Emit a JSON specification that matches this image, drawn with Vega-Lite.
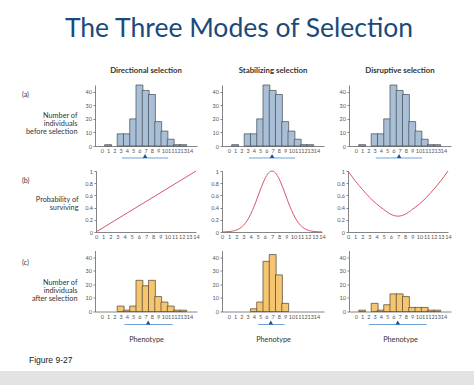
{
 "$schema": "https://vega.github.io/schema/vega-lite/v6.json",
 "padding": {"top": 16, "left": 0, "right": 0, "bottom": 0},
 "background": "white",
 "title": {"text": "The Three Modes of Selection", "font": "Lato", "fontSize": 26.5, "fontWeight": "normal", "color": "#1b4a7a", "anchor": "middle", "offset": -3, "dx": 2, "baseline": "bottom"},
 "datasets": {
  "before": [
   {"phenotype": 1, "count": 1}, {"phenotype": 3, "count": 9}, {"phenotype": 4, "count": 9}, {"phenotype": 5, "count": 20},
   {"phenotype": 6, "count": 45}, {"phenotype": 7, "count": 41}, {"phenotype": 8, "count": 38}, {"phenotype": 9, "count": 18},
   {"phenotype": 10, "count": 11}, {"phenotype": 11, "count": 5}, {"phenotype": 12, "count": 1}, {"phenotype": 13, "count": 1}
  ],
  "after": [
   {"sel": "Directional", "phenotype": 3, "count": 4}, {"sel": "Directional", "phenotype": 4, "count": 1}, {"sel": "Directional", "phenotype": 5, "count": 4},
   {"sel": "Directional", "phenotype": 6, "count": 23}, {"sel": "Directional", "phenotype": 7, "count": 19}, {"sel": "Directional", "phenotype": 8, "count": 23},
   {"sel": "Directional", "phenotype": 9, "count": 11}, {"sel": "Directional", "phenotype": 10, "count": 7}, {"sel": "Directional", "phenotype": 11, "count": 4},
   {"sel": "Directional", "phenotype": 12, "count": 1}, {"sel": "Directional", "phenotype": 13, "count": 1},
   {"sel": "Stabilizing", "phenotype": 4, "count": 2}, {"sel": "Stabilizing", "phenotype": 5, "count": 7}, {"sel": "Stabilizing", "phenotype": 6, "count": 37},
   {"sel": "Stabilizing", "phenotype": 7, "count": 42}, {"sel": "Stabilizing", "phenotype": 8, "count": 27}, {"sel": "Stabilizing", "phenotype": 9, "count": 6},
   {"sel": "Disruptive", "phenotype": 1, "count": 1}, {"sel": "Disruptive", "phenotype": 3, "count": 6}, {"sel": "Disruptive", "phenotype": 4, "count": 1},
   {"sel": "Disruptive", "phenotype": 5, "count": 5}, {"sel": "Disruptive", "phenotype": 6, "count": 13}, {"sel": "Disruptive", "phenotype": 7, "count": 13},
   {"sel": "Disruptive", "phenotype": 8, "count": 11}, {"sel": "Disruptive", "phenotype": 9, "count": 3}, {"sel": "Disruptive", "phenotype": 10, "count": 3},
   {"sel": "Disruptive", "phenotype": 11, "count": 3}, {"sel": "Disruptive", "phenotype": 12, "count": 1}, {"sel": "Disruptive", "phenotype": 13, "count": 1}
  ],
  "survival": [
   {"sel": "Directional", "phenotype": 0, "p": 0}, {"sel": "Directional", "phenotype": 14, "p": 1},
   {"sel": "Stabilizing", "phenotype": 0, "p": 0.001}, {"sel": "Stabilizing", "phenotype": 0.5, "p": 0.003}, {"sel": "Stabilizing", "phenotype": 1, "p": 0.007},
   {"sel": "Stabilizing", "phenotype": 1.5, "p": 0.015}, {"sel": "Stabilizing", "phenotype": 2, "p": 0.031}, {"sel": "Stabilizing", "phenotype": 2.5, "p": 0.06},
   {"sel": "Stabilizing", "phenotype": 3, "p": 0.109}, {"sel": "Stabilizing", "phenotype": 3.5, "p": 0.183}, {"sel": "Stabilizing", "phenotype": 4, "p": 0.288},
   {"sel": "Stabilizing", "phenotype": 4.5, "p": 0.421}, {"sel": "Stabilizing", "phenotype": 5, "p": 0.575}, {"sel": "Stabilizing", "phenotype": 5.5, "p": 0.732},
   {"sel": "Stabilizing", "phenotype": 6, "p": 0.871}, {"sel": "Stabilizing", "phenotype": 6.5, "p": 0.966}, {"sel": "Stabilizing", "phenotype": 7, "p": 1},
   {"sel": "Stabilizing", "phenotype": 7.5, "p": 0.966}, {"sel": "Stabilizing", "phenotype": 8, "p": 0.871}, {"sel": "Stabilizing", "phenotype": 8.5, "p": 0.732},
   {"sel": "Stabilizing", "phenotype": 9, "p": 0.575}, {"sel": "Stabilizing", "phenotype": 9.5, "p": 0.421}, {"sel": "Stabilizing", "phenotype": 10, "p": 0.288},
   {"sel": "Stabilizing", "phenotype": 10.5, "p": 0.183}, {"sel": "Stabilizing", "phenotype": 11, "p": 0.109}, {"sel": "Stabilizing", "phenotype": 11.5, "p": 0.06},
   {"sel": "Stabilizing", "phenotype": 12, "p": 0.031}, {"sel": "Stabilizing", "phenotype": 12.5, "p": 0.015}, {"sel": "Stabilizing", "phenotype": 13, "p": 0.007},
   {"sel": "Stabilizing", "phenotype": 13.5, "p": 0.003}, {"sel": "Stabilizing", "phenotype": 14, "p": 0.001},
   {"sel": "Disruptive", "phenotype": 0, "p": 1}, {"sel": "Disruptive", "phenotype": 1, "p": 0.84}, {"sel": "Disruptive", "phenotype": 2, "p": 0.7},
   {"sel": "Disruptive", "phenotype": 3, "p": 0.57}, {"sel": "Disruptive", "phenotype": 4, "p": 0.46}, {"sel": "Disruptive", "phenotype": 5, "p": 0.37},
   {"sel": "Disruptive", "phenotype": 6, "p": 0.29}, {"sel": "Disruptive", "phenotype": 7, "p": 0.26}, {"sel": "Disruptive", "phenotype": 8, "p": 0.29},
   {"sel": "Disruptive", "phenotype": 9, "p": 0.37}, {"sel": "Disruptive", "phenotype": 10, "p": 0.46}, {"sel": "Disruptive", "phenotype": 11, "p": 0.57},
   {"sel": "Disruptive", "phenotype": 12, "p": 0.7}, {"sel": "Disruptive", "phenotype": 13, "p": 0.84}, {"sel": "Disruptive", "phenotype": 14, "p": 1}
  ],
  "ranges": [
   {"sel": "Directional", "stage": "before", "lo": 3.2, "hi": 10.6, "mean": 6.9},
   {"sel": "Stabilizing", "stage": "before", "lo": 3.2, "hi": 10.6, "mean": 6.9},
   {"sel": "Disruptive", "stage": "before", "lo": 3.2, "hi": 10.6, "mean": 6.9},
   {"sel": "Directional", "stage": "after", "lo": 3.6, "hi": 11.3, "mean": 7.4},
   {"sel": "Stabilizing", "stage": "after", "lo": 4.7, "hi": 8.9, "mean": 6.7},
   {"sel": "Disruptive", "stage": "after", "lo": 2.1, "hi": 11.3, "mean": 6.7}
  ],
  "blank": [{"t": ""}]
 },
 "vconcat": [
  {
   "spacing": 10,
   "vconcat": [
    {
     "bounds": "flush",
     "spacing": 25,
     "hconcat": [
      {
       "width": 70, "height": 61,
       "data": {"name": "blank"}, "mark": {"type": "text"}, "encoding": {"text": {"field": "t"}},
       "title": {"text": "(a)", "anchor": "start", "frame": "group", "dx": 22, "dy": 9, "offset": -8, "baseline": "middle", "fontSize": 7, "fontWeight": "normal", "color": "#333"}
      },
      {
       "width": 102, "height": 61,
       "title": {"text": "Directional selection"},
       "layer": [
        {"data": {"name": "before"},
         "mark": {"type": "bar", "width": 6.9, "fill": "#a8bfd5", "stroke": "#434b54", "strokeWidth": 0.7},
         "encoding": {
          "x": {"field": "phenotype", "type": "quantitative", "scale": {"domain": [-0.3, 14.4], "nice": false, "zero": false}, "axis": {"values": [0,1,2,3,4,5,6,7,8,9,10,11,12,13,14], "title": null}},
          "y": {"field": "count", "type": "quantitative", "scale": {"domain": [0, 45], "nice": false}, "axis": {"values": [0,10,20,30,40], "title": ["Number of", "individuals", "before selection"], "titleAngle": 0, "titleAlign": "right", "titleBaseline": "middle", "titleX": -18, "titleY": 30}}
         }},
        {"data": {"name": "ranges"}, "transform": [{"filter": "datum.stage === 'before' && datum.sel === 'Directional'"}],
         "mark": {"type": "rule", "color": "#6ea3d8", "strokeWidth": 1},
         "encoding": {"x": {"field": "lo", "type": "quantitative", "axis": {"values": [0,1,2,3,4,5,6,7,8,9,10,11,12,13,14], "title": null}}, "x2": {"field": "hi"}, "y": {"datum": -8.85, "axis": {"values": [0,10,20,30,40], "title": ["Number of", "individuals", "before selection"], "titleAngle": 0, "titleAlign": "right", "titleBaseline": "middle", "titleX": -18, "titleY": 30}}}},
        {"data": {"name": "ranges"}, "transform": [{"filter": "datum.stage === 'before' && datum.sel === 'Directional'"}],
         "mark": {"type": "point", "shape": "triangle-up", "filled": true, "color": "#1f4f8f", "size": 20, "opacity": 1},
         "encoding": {"x": {"field": "mean", "type": "quantitative", "axis": {"values": [0,1,2,3,4,5,6,7,8,9,10,11,12,13,14], "title": null}}, "y": {"datum": -7.4, "axis": {"values": [0,10,20,30,40], "title": ["Number of", "individuals", "before selection"], "titleAngle": 0, "titleAlign": "right", "titleBaseline": "middle", "titleX": -18, "titleY": 30}}}}
       ]
      },
      {
       "width": 102, "height": 61,
       "title": {"text": "Stabilizing selection"},
       "layer": [
        {"data": {"name": "before"},
         "mark": {"type": "bar", "width": 6.9, "fill": "#a8bfd5", "stroke": "#434b54", "strokeWidth": 0.7},
         "encoding": {
          "x": {"field": "phenotype", "type": "quantitative", "scale": {"domain": [-0.3, 14.4], "nice": false, "zero": false}, "axis": {"values": [0,1,2,3,4,5,6,7,8,9,10,11,12,13,14], "title": null}},
          "y": {"field": "count", "type": "quantitative", "scale": {"domain": [0, 45], "nice": false}, "axis": {"values": [0,10,20,30,40], "title": null}}
         }},
        {"data": {"name": "ranges"}, "transform": [{"filter": "datum.stage === 'before' && datum.sel === 'Stabilizing'"}],
         "mark": {"type": "rule", "color": "#6ea3d8", "strokeWidth": 1},
         "encoding": {"x": {"field": "lo", "type": "quantitative", "axis": {"values": [0,1,2,3,4,5,6,7,8,9,10,11,12,13,14], "title": null}}, "x2": {"field": "hi"}, "y": {"datum": -8.85, "axis": {"values": [0,10,20,30,40], "title": null}}}},
        {"data": {"name": "ranges"}, "transform": [{"filter": "datum.stage === 'before' && datum.sel === 'Stabilizing'"}],
         "mark": {"type": "point", "shape": "triangle-up", "filled": true, "color": "#1f4f8f", "size": 20, "opacity": 1},
         "encoding": {"x": {"field": "mean", "type": "quantitative", "axis": {"values": [0,1,2,3,4,5,6,7,8,9,10,11,12,13,14], "title": null}}, "y": {"datum": -7.4, "axis": {"values": [0,10,20,30,40], "title": null}}}}
       ]
      },
      {
       "width": 102, "height": 61,
       "title": {"text": "Disruptive selection"},
       "layer": [
        {"data": {"name": "before"},
         "mark": {"type": "bar", "width": 6.9, "fill": "#a8bfd5", "stroke": "#434b54", "strokeWidth": 0.7},
         "encoding": {
          "x": {"field": "phenotype", "type": "quantitative", "scale": {"domain": [-0.3, 14.4], "nice": false, "zero": false}, "axis": {"values": [0,1,2,3,4,5,6,7,8,9,10,11,12,13,14], "title": null}},
          "y": {"field": "count", "type": "quantitative", "scale": {"domain": [0, 45], "nice": false}, "axis": {"values": [0,10,20,30,40], "title": null}}
         }},
        {"data": {"name": "ranges"}, "transform": [{"filter": "datum.stage === 'before' && datum.sel === 'Disruptive'"}],
         "mark": {"type": "rule", "color": "#6ea3d8", "strokeWidth": 1},
         "encoding": {"x": {"field": "lo", "type": "quantitative", "axis": {"values": [0,1,2,3,4,5,6,7,8,9,10,11,12,13,14], "title": null}}, "x2": {"field": "hi"}, "y": {"datum": -8.85, "axis": {"values": [0,10,20,30,40], "title": null}}}},
        {"data": {"name": "ranges"}, "transform": [{"filter": "datum.stage === 'before' && datum.sel === 'Disruptive'"}],
         "mark": {"type": "point", "shape": "triangle-up", "filled": true, "color": "#1f4f8f", "size": 20, "opacity": 1},
         "encoding": {"x": {"field": "mean", "type": "quantitative", "axis": {"values": [0,1,2,3,4,5,6,7,8,9,10,11,12,13,14], "title": null}}, "y": {"datum": -7.4, "axis": {"values": [0,10,20,30,40], "title": null}}}}
       ]
      }
     ]
    },
    {
     "spacing": 10.5,
     "vconcat": [
      {
       "bounds": "flush",
       "spacing": 26,
       "hconcat": [
        {
         "width": 70, "height": 61,
         "data": {"name": "blank"}, "mark": {"type": "text"}, "encoding": {"text": {"field": "t"}},
         "title": {"text": "(b)", "anchor": "start", "frame": "group", "dx": 22, "dy": 9, "offset": -8, "baseline": "middle", "fontSize": 7, "fontWeight": "normal", "color": "#333"}
        },
        {
         "width": 100, "height": 61,
         "data": {"name": "survival"},
         "transform": [{"filter": "datum.sel === 'Directional'"}],
         "mark": {"type": "line", "color": "#d9546c", "strokeWidth": 1, "interpolate": "monotone"},
         "encoding": {
          "x": {"field": "phenotype", "type": "quantitative", "scale": {"domain": [0, 14], "nice": false}, "axis": {"values": [0,1,2,3,4,5,6,7,8,9,10,11,12,13,14], "title": null}},
          "y": {"field": "p", "type": "quantitative", "scale": {"domain": [0, 1], "nice": false}, "axis": {"values": [0,0.2,0.4,0.6,0.8,1], "format": "~g", "title": ["Probability of", "surviving"], "titleAngle": 0, "titleAlign": "right", "titleBaseline": "middle", "titleX": -18, "titleY": 28.5}}
         }
        },
        {
         "width": 100, "height": 61,
         "data": {"name": "survival"},
         "transform": [{"filter": "datum.sel === 'Stabilizing'"}],
         "mark": {"type": "line", "color": "#d9546c", "strokeWidth": 1, "interpolate": "monotone"},
         "encoding": {
          "x": {"field": "phenotype", "type": "quantitative", "scale": {"domain": [0, 14], "nice": false}, "axis": {"values": [0,1,2,3,4,5,6,7,8,9,10,11,12,13,14], "title": null}},
          "y": {"field": "p", "type": "quantitative", "scale": {"domain": [0, 1], "nice": false}, "axis": {"values": [0,0.2,0.4,0.6,0.8,1], "format": "~g", "title": null}}
         }
        },
        {
         "width": 100, "height": 61,
         "data": {"name": "survival"},
         "transform": [{"filter": "datum.sel === 'Disruptive'"}],
         "mark": {"type": "line", "color": "#d9546c", "strokeWidth": 1, "interpolate": "monotone"},
         "encoding": {
          "x": {"field": "phenotype", "type": "quantitative", "scale": {"domain": [0, 14], "nice": false}, "axis": {"values": [0,1,2,3,4,5,6,7,8,9,10,11,12,13,14], "title": null}},
          "y": {"field": "p", "type": "quantitative", "scale": {"domain": [0, 1], "nice": false}, "axis": {"values": [0,0.2,0.4,0.6,0.8,1], "format": "~g", "title": null}}
         }
        }
       ]
      },
      {
       "bounds": "flush",
       "spacing": 25,
       "hconcat": [
        {
         "width": 70, "height": 61,
         "data": {"name": "blank"}, "mark": {"type": "text"}, "encoding": {"text": {"field": "t"}},
         "title": {"text": "(c)", "anchor": "start", "frame": "group", "dx": 22, "dy": 10, "offset": -9.5, "baseline": "middle", "fontSize": 7, "fontWeight": "normal", "color": "#333"}
        },
        {
         "width": 102, "height": 61,
         "layer": [
          {"data": {"name": "after"}, "transform": [{"filter": "datum.sel === 'Directional'"}],
           "mark": {"type": "bar", "width": 6.9, "fill": "#f6c56f", "stroke": "#4d4230", "strokeWidth": 0.7},
           "encoding": {
            "x": {"field": "phenotype", "type": "quantitative", "scale": {"domain": [-0.3, 14.4], "nice": false, "zero": false}, "axis": {"values": [0,1,2,3,4,5,6,7,8,9,10,11,12,13,14], "title": "Phenotype", "titlePadding": 16}},
            "y": {"field": "count", "type": "quantitative", "scale": {"domain": [0, 45], "nice": false}, "axis": {"values": [0,10,20,30,40], "title": ["Number of", "individuals", "after selection"], "titleAngle": 0, "titleAlign": "right", "titleBaseline": "middle", "titleX": -18, "titleY": 31.5}}
           }},
          {"data": {"name": "ranges"}, "transform": [{"filter": "datum.stage === 'after' && datum.sel === 'Directional'"}],
           "mark": {"type": "rule", "color": "#6ea3d8", "strokeWidth": 1},
           "encoding": {"x": {"field": "lo", "type": "quantitative", "axis": {"values": [0,1,2,3,4,5,6,7,8,9,10,11,12,13,14], "title": "Phenotype", "titlePadding": 16}}, "x2": {"field": "hi"}, "y": {"datum": -9.6, "axis": {"values": [0,10,20,30,40], "title": ["Number of", "individuals", "after selection"], "titleAngle": 0, "titleAlign": "right", "titleBaseline": "middle", "titleX": -18, "titleY": 31.5}}}},
          {"data": {"name": "ranges"}, "transform": [{"filter": "datum.stage === 'after' && datum.sel === 'Directional'"}],
           "mark": {"type": "point", "shape": "triangle-up", "filled": true, "color": "#1f4f8f", "size": 20, "opacity": 1},
           "encoding": {"x": {"field": "mean", "type": "quantitative", "axis": {"values": [0,1,2,3,4,5,6,7,8,9,10,11,12,13,14], "title": "Phenotype", "titlePadding": 16}}, "y": {"datum": -8.1, "axis": {"values": [0,10,20,30,40], "title": ["Number of", "individuals", "after selection"], "titleAngle": 0, "titleAlign": "right", "titleBaseline": "middle", "titleX": -18, "titleY": 31.5}}}}
         ]
        },
        {
         "width": 102, "height": 61,
         "layer": [
          {"data": {"name": "after"}, "transform": [{"filter": "datum.sel === 'Stabilizing'"}],
           "mark": {"type": "bar", "width": 6.9, "fill": "#f6c56f", "stroke": "#4d4230", "strokeWidth": 0.7},
           "encoding": {
            "x": {"field": "phenotype", "type": "quantitative", "scale": {"domain": [-0.3, 14.4], "nice": false, "zero": false}, "axis": {"values": [0,1,2,3,4,5,6,7,8,9,10,11,12,13,14], "title": "Phenotype", "titlePadding": 16}},
            "y": {"field": "count", "type": "quantitative", "scale": {"domain": [0, 45], "nice": false}, "axis": {"values": [0,10,20,30,40], "title": null}}
           }},
          {"data": {"name": "ranges"}, "transform": [{"filter": "datum.stage === 'after' && datum.sel === 'Stabilizing'"}],
           "mark": {"type": "rule", "color": "#6ea3d8", "strokeWidth": 1},
           "encoding": {"x": {"field": "lo", "type": "quantitative", "axis": {"values": [0,1,2,3,4,5,6,7,8,9,10,11,12,13,14], "title": "Phenotype", "titlePadding": 16}}, "x2": {"field": "hi"}, "y": {"datum": -9.6, "axis": {"values": [0,10,20,30,40], "title": null}}}},
          {"data": {"name": "ranges"}, "transform": [{"filter": "datum.stage === 'after' && datum.sel === 'Stabilizing'"}],
           "mark": {"type": "point", "shape": "triangle-up", "filled": true, "color": "#1f4f8f", "size": 20, "opacity": 1},
           "encoding": {"x": {"field": "mean", "type": "quantitative", "axis": {"values": [0,1,2,3,4,5,6,7,8,9,10,11,12,13,14], "title": "Phenotype", "titlePadding": 16}}, "y": {"datum": -8.1, "axis": {"values": [0,10,20,30,40], "title": null}}}}
         ]
        },
        {
         "width": 102, "height": 61,
         "layer": [
          {"data": {"name": "after"}, "transform": [{"filter": "datum.sel === 'Disruptive'"}],
           "mark": {"type": "bar", "width": 6.9, "fill": "#f6c56f", "stroke": "#4d4230", "strokeWidth": 0.7},
           "encoding": {
            "x": {"field": "phenotype", "type": "quantitative", "scale": {"domain": [-0.3, 14.4], "nice": false, "zero": false}, "axis": {"values": [0,1,2,3,4,5,6,7,8,9,10,11,12,13,14], "title": "Phenotype", "titlePadding": 16}},
            "y": {"field": "count", "type": "quantitative", "scale": {"domain": [0, 45], "nice": false}, "axis": {"values": [0,10,20,30,40], "title": null}}
           }},
          {"data": {"name": "ranges"}, "transform": [{"filter": "datum.stage === 'after' && datum.sel === 'Disruptive'"}],
           "mark": {"type": "rule", "color": "#6ea3d8", "strokeWidth": 1},
           "encoding": {"x": {"field": "lo", "type": "quantitative", "axis": {"values": [0,1,2,3,4,5,6,7,8,9,10,11,12,13,14], "title": "Phenotype", "titlePadding": 16}}, "x2": {"field": "hi"}, "y": {"datum": -9.6, "axis": {"values": [0,10,20,30,40], "title": null}}}},
          {"data": {"name": "ranges"}, "transform": [{"filter": "datum.stage === 'after' && datum.sel === 'Disruptive'"}],
           "mark": {"type": "point", "shape": "triangle-up", "filled": true, "color": "#1f4f8f", "size": 20, "opacity": 1},
           "encoding": {"x": {"field": "mean", "type": "quantitative", "axis": {"values": [0,1,2,3,4,5,6,7,8,9,10,11,12,13,14], "title": "Phenotype", "titlePadding": 16}}, "y": {"datum": -8.1, "axis": {"values": [0,10,20,30,40], "title": null}}}}
         ]
        }
       ]
      }
     ]
    }
   ]
  },
  {
   "width": 474, "height": 18,
   "view": {"fill": "#e3e3e3", "stroke": null},
   "data": {"name": "blank"},
   "mark": {"type": "text"},
   "encoding": {"text": {"field": "t"}},
   "title": {"text": "Figure 9-27", "anchor": "start", "frame": "group", "dx": 29, "font": "Liberation Sans", "fontSize": 8.5, "fontWeight": "normal", "color": "#222", "offset": -2, "baseline": "bottom"}
  }
 ],
 "spacing": 12,
 "config": {
  "font": "Lato",
  "view": {"stroke": null},
  "axis": {"grid": false, "labelFont": "Lato", "labelFontSize": 5.5, "labelColor": "#555", "labelOverlap": false, "labelFlush": false, "domainColor": "#666", "domainWidth": 0.8, "tickColor": "#666", "tickSize": 2, "tickWidth": 0.8, "labelPadding": 1.5, "titleFont": "Lato", "titleFontSize": 7.3, "titleFontWeight": "normal", "titleColor": "#333", "titleLineHeight": 8},
  "axisX": {"ticks": false, "labelPadding": 2.5},
  "title": {"font": "Lato", "fontSize": 7.8, "fontWeight": "bold", "color": "#333", "baseline": "bottom", "offset": 10}
 }
}
